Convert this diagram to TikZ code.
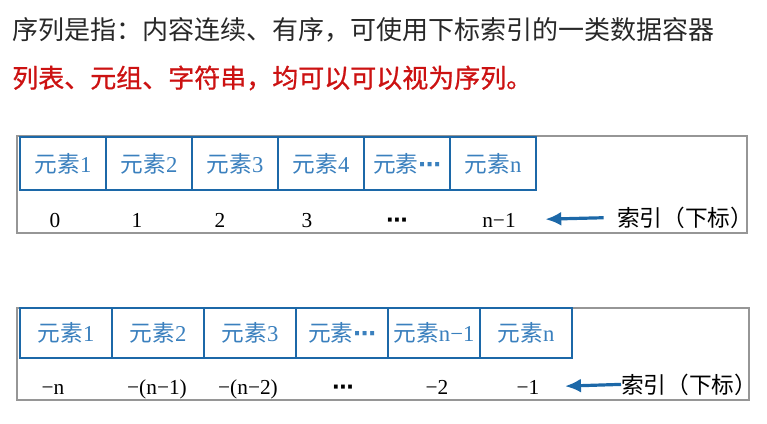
\documentclass[tikz,border=0pt]{standalone}
\usepackage{fontspec}
\setmainfont{Liberation Serif}
\newfontfamily\cjk{Noto Sans CJK SC}
\newfontfamily\cjkred[FakeBold=0.8]{Noto Sans CJK SC}
\newfontfamily\dejavu{DejaVu Sans}
\usepackage{xcolor}
\usepackage{tikz}
\usetikzlibrary{arrows.meta,positioning}
\definecolor{cellblue}{RGB}{28,104,168}
\definecolor{txtblue}{RGB}{58,128,190}
\definecolor{framegray}{RGB}{150,150,150}
\definecolor{titlered}{RGB}{204,18,18}
\definecolor{titlegray}{RGB}{40,40,40}
\newcommand{\yuansu}[1]{{\cjk 元素}#1}
\newcommand{\dd}{{\dejavu\bfseries ⋯}}

\begin{document}
\begin{tikzpicture}[x=0.75pt,y=-0.75pt,>=Latex,node distance=0pt,
  cell/.style={draw=cellblue,line width=2.2pt,fill=white,outer sep=0pt,inner sep=0pt,
    text=txtblue,font=\fontsize{17}{19}\selectfont},
  cellA/.style={cell,minimum width=64.5pt,minimum height=39.75pt},
  cellB/.style={cell,minimum width=69pt,minimum height=37.5pt},
  frame/.style={draw=framegray,line width=1pt},
  idx/.style={anchor=base,inner sep=0pt,font=\fontsize{16}{18}\selectfont},
  lab/.style={anchor=base west,inner sep=0pt,font=\cjk\fontsize{17}{19}\selectfont},
  idxarrow/.style={->,draw=cellblue,line width=2.4pt,
    arrows={-Latex[length=12pt,width=10.5pt]}}]
\useasboundingbox (0,0) rectangle (767,424);

% title lines
\node[anchor=west,inner sep=0pt,text=titlegray,font=\cjk\fontsize{19.5}{22}\selectfont] (title) at (12,30)
  {序列是指：内容连续、有序，可使用下标索引的一类数据容器};
\node[anchor=west,inner sep=0pt,text=titlered,font=\cjkred\fontsize{19.5}{22}\selectfont] (note) at (12,78)
  {列表、元组、字符串，均可以可以视为序列。};

% positive indices
\draw[frame] (17,136) rectangle (747,233);
\node[cellA] (a1) at (63,163.5) {\yuansu{1}};
\node[cellA,right=of a1] (a2) {\yuansu{2}};
\node[cellA,right=of a2] (a3) {\yuansu{3}};
\node[cellA,right=of a3] (a4) {\yuansu{4}};
\node[cellA,right=of a4] (a5) {\yuansu{\dd}};
\node[cellA,right=of a5] (a6) {\yuansu{n}};
\node[idx] (p1) at (55,227) {0};
\node[idx] (p2) at (137,227) {1};
\node[idx] (p3) at (220,227) {2};
\node[idx] (p4) at (307,227) {3};
\node[idx] (p5) at (397,227) {\dd};
\node[idx] (p6) at (499,227) {n−1};
\node[lab] (lab1) at (617,226) {索引（下标）};
\draw[idxarrow,shorten <=10pt,shorten >=22pt] (lab1.west) -- (p6.east);

% negative indices
\draw[frame] (17,308) rectangle (749,400);
\node[cellB] (b1) at (66,333) {\yuansu{1}};
\node[cellB,right=of b1] (b2) {\yuansu{2}};
\node[cellB,right=of b2] (b3) {\yuansu{3}};
\node[cellB,right=of b3] (b4) {\yuansu{\dd}};
\node[cellB,right=of b4] (b5) {\yuansu{n−1}};
\node[cellB,right=of b5] (b6) {\yuansu{n}};
\node[idx] (q1) at (53,394) {−n};
\node[idx] (q2) at (157,394) {−(n−1)};
\node[idx] (q3) at (248,394) {−(n−2)};
\node[idx] (q4) at (343,394) {\dd};
\node[idx] (q5) at (437,394) {−2};
\node[idx] (q6) at (528,394) {−1};
\node[lab] (lab2) at (621,393) {索引（下标）};
\draw[idxarrow,shorten <=0pt,shorten >=19pt] (lab2.west) -- (q6.east);
\end{tikzpicture}
\end{document}
